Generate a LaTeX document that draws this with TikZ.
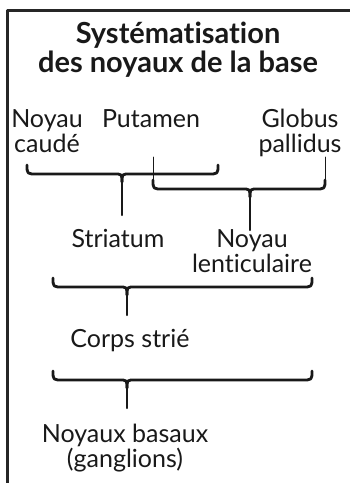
\documentclass[tikz,border=0pt]{standalone}
\usepackage{fontspec}
\setmainfont{Lato}[Ligatures=NoCommon]
\usepackage{tikz}
\usetikzlibrary{arrows.meta}
\tikzset{
  every picture/.style={line join=round, line cap=round, >=Stealth},
  lbl/.style={font=\fontsize{12.5}{12.5}\selectfont, text=black!90, align=center, inner sep=0pt, anchor=base},
  titre/.style={font=\fontsize{14.5}{12.5}\selectfont\bfseries, text=black!90, align=center, inner sep=0pt, anchor=base},
  brace/.style={line width=1.4pt, draw=black!90},
  bout/.style={line width=0.5pt, draw=black!90},
  tige/.style={line width=1.1pt, draw=black!90},
}
% #1 left x, #2 right x, #3 tip x, #4 bar y, #5 top of the ends, #6 end of the stem
\newcommand{\accolade}[6]{%
  \draw[bout] (#1,#5) -- (#1,#4-9); \draw[bout] (#2,#5) -- (#2,#4-9);
  \draw[brace] (#1,#4-9) .. controls (#1,#4) .. (#1+10,#4) -- (#3-8,#4) .. controls (#3,#4) .. (#3,#4+8);
  \draw[brace] (#2,#4-9) .. controls (#2,#4) .. (#2-10,#4) -- (#3+8,#4) .. controls (#3,#4) .. (#3,#4+8);
  \draw[tige] (#3,#4+6) -- (#3,#6);}

\begin{document}
\begin{tikzpicture}[x=0.5pt,y=-0.5pt]
\useasboundingbox (0,0) rectangle (349,483);
% frame
\draw[line width=1.5pt, black!85, line cap=butt] (7.5,485) -- (7.5,10) -- (352,10);
% title (base = last line)
\node[titre] (titre) at (178,72) {Systématisation\\des noyaux de la base};
% top row
\node[lbl] (caude) at (47,152) {Noyau\\caudé};
\node[lbl] (putamen) at (151,127) {Putamen};
\node[lbl] (globus) at (300,152) {Globus\\pallidus};
% braces
\accolade{27}{218}{122}{174}{165}{215}
\accolade{153}{325}{250}{189}{157}{230}
\node[lbl] (striatum) at (118,247) {Striatum};
\node[lbl] (lenti) at (252,272) {Noyau\\lenticulaire};
\accolade{53}{312}{127}{287}{279}{315}
\node[lbl] (corps) at (130,347) {Corps strié};
\accolade{53}{312}{127}{380}{372}{408}
\node[lbl] (basaux) at (125,467) {Noyaux basaux\\(ganglions)};
\end{tikzpicture}
\end{document}
